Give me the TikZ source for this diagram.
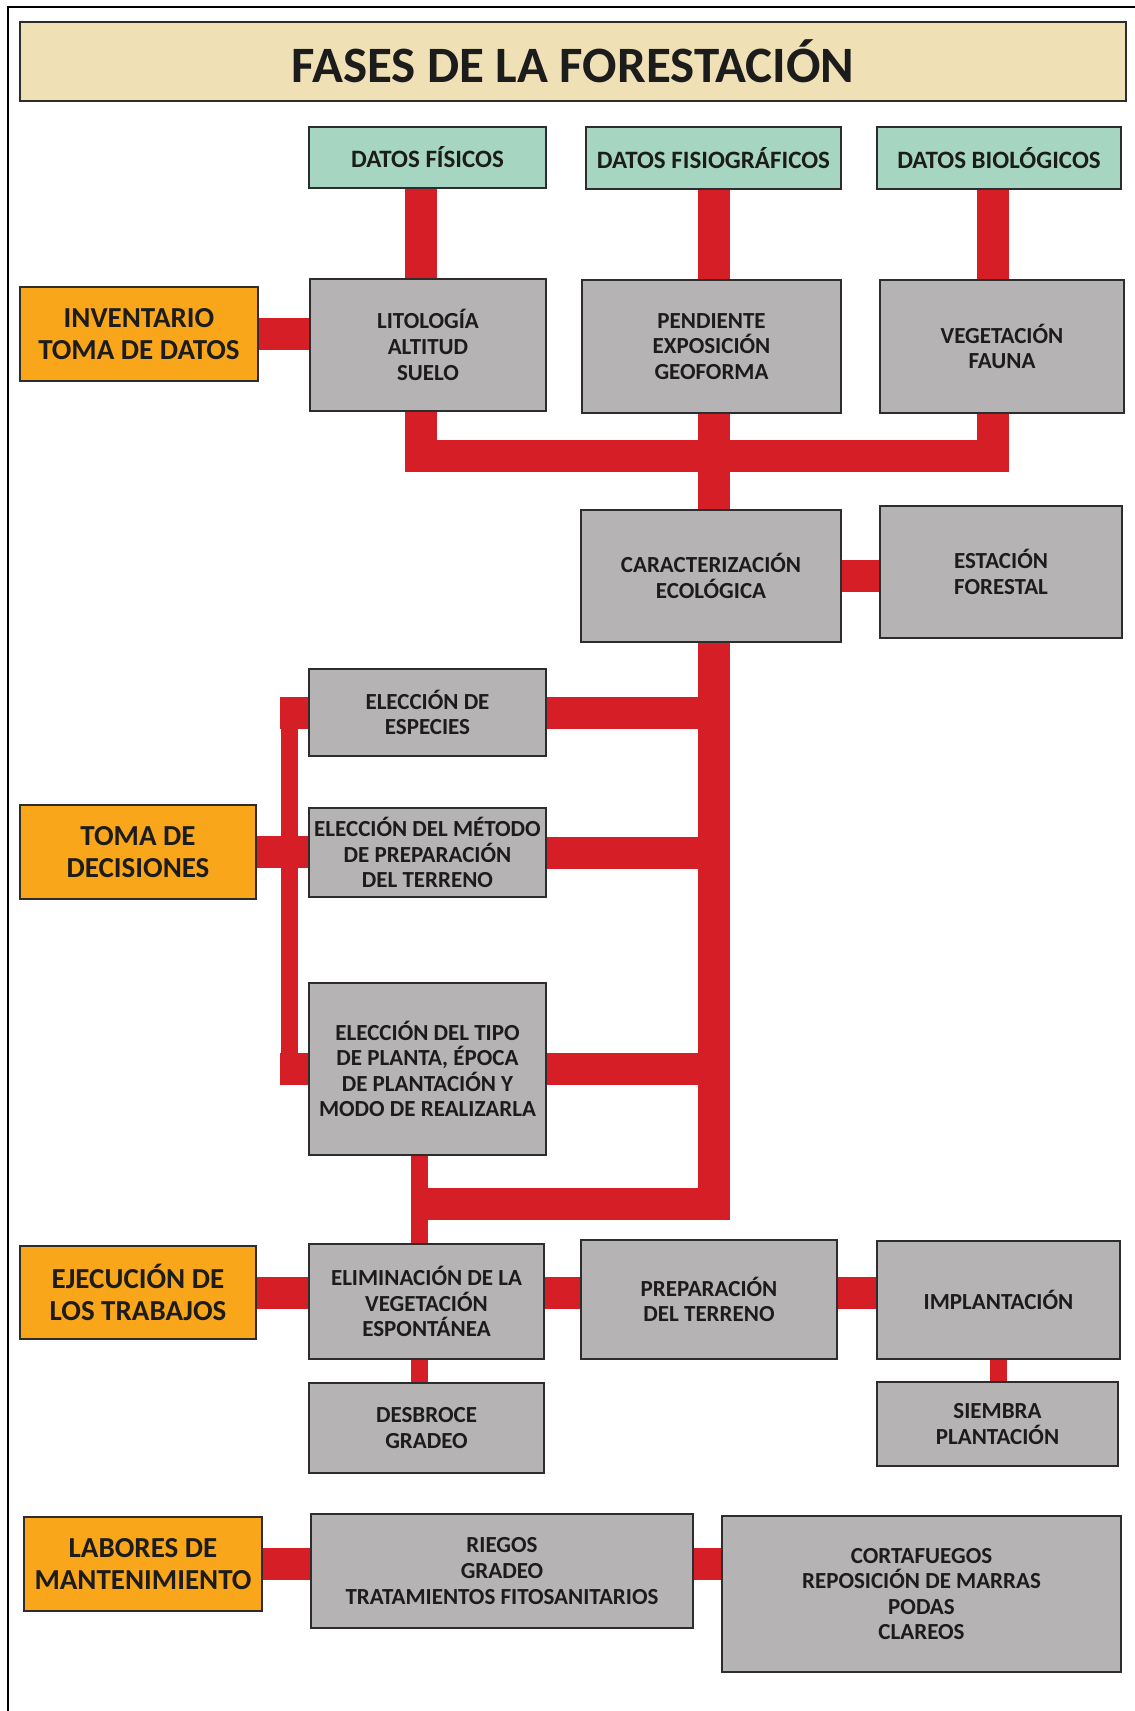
\documentclass[tikz,border=0pt]{standalone}
\usepackage{fontspec}
\setmainfont{Carlito}
\usetikzlibrary{positioning,backgrounds,calc}

\definecolor{rojo}{RGB}{214,30,38}
\definecolor{gris}{RGB}{181,179,180}
\definecolor{naranja}{RGB}{250,166,26}
\definecolor{menta}{RGB}{166,214,193}
\definecolor{arena}{RGB}{239,224,182}
\definecolor{borde}{RGB}{45,45,45}
\definecolor{tinta}{RGB}{28,28,28}

\tikzset{
  tam/.style 2 args={minimum width=#1*0.5pt, minimum height=#2*0.5pt},
  caja/.style={draw=borde, line width=1pt, fill=gris, align=center, inner sep=2pt, text=tinta,
    font=\bfseries\fontsize{11.5}{12.8}\selectfont},
  dato/.style={caja, fill=menta, font=\bfseries\fontsize{12.5}{14}\selectfont},
  fase/.style={caja, fill=naranja, font=\bfseries\fontsize{14.5}{16.4}\selectfont},
  titulo/.style={caja, fill=arena, font=\bfseries\fontsize{25.5}{28}\selectfont},
  enlace/.style={draw=rojo, line width=16pt},
  enlacefino/.style={draw=rojo, line width=8.5pt}
}

\begin{document}
\begin{tikzpicture}[x=0.5pt,y=-0.5pt]
\useasboundingbox (0,0) rectangle (1134,1711);
\draw[line width=1pt] (8,1800) -- (8,7) -- (1200,7);

\node[titulo, tam={1106}{79}] (tit) at (573,61.5) {FASES DE LA FORESTACIÓN};

% datos
\node[dato, tam={237}{61}] (dfis) at (427.5,157.5) {DATOS FÍSICOS};
\node[dato, tam={255}{62}] (dfisio) at (713.5,158) {DATOS FISIOGRÁFICOS};
\node[dato, tam={244}{62}] (dbio) at (999,158) {DATOS BIOLÓGICOS};

% inventario
\node[fase, tam={238}{94}] (inv) at (139,334) {INVENTARIO\\TOMA DE DATOS};
\node[caja, tam={236}{132}] (lito) at (428,345) {LITOLOGÍA\\ALTITUD\\SUELO};
\node[caja, tam={259}{133}] (pend) at (711.5,346.5) {PENDIENTE\\EXPOSICIÓN\\GEOFORMA};
\node[caja, tam={244}{133}] (veg) at (1002,346.5) {VEGETACIÓN\\FAUNA};
\node[caja, tam={260}{132}] (carac) at (711,576) {CARACTERIZACIÓN\\ECOLÓGICA};
\node[caja, tam={242}{132}] (estac) at (1001,572) {ESTACIÓN\\FORESTAL};

% decisiones
\node[fase, tam={236}{94}] (toma) at (138,852) {TOMA DE\\DECISIONES};
\node[caja, tam={237}{87}] (esp) at (427.5,712.5) {ELECCIÓN DE\\ESPECIES};
\node[caja, tam={237}{89}] (met) at (427.5,852.5) {ELECCIÓN DEL MÉTODO\\DE PREPARACIÓN\\DEL TERRENO};
\node[caja, tam={237}{172}] (tipo) at (427.5,1069) {ELECCIÓN DEL TIPO\\DE PLANTA, ÉPOCA\\DE PLANTACIÓN Y\\MODO DE REALIZARLA};

% trabajos
\node[fase, tam={236}{93}] (ejec) at (138,1292.5) {EJECUCIÓN DE\\LOS TRABAJOS};
\node[caja, tam={235}{115}] (elim) at (426.5,1301.5) {ELIMINACIÓN DE LA\\VEGETACIÓN\\ESPONTÁNEA};
\node[caja, tam={256}{119}] (prep) at (709,1299.5) {PREPARACIÓN\\DEL TERRENO};
\node[caja, tam={243}{118}] (impl) at (998.5,1300) {IMPLANTACIÓN};
\node[caja, tam={235}{90}] (desb) at (426.5,1428) {DESBROCE\\GRADEO};
\node[caja, tam={241}{84}] (siem) at (997.5,1424) {SIEMBRA\\PLANTACIÓN};

% mantenimiento
\node[fase, tam={238}{94}] (lab) at (143,1564) {LABORES DE\\MANTENIMIENTO};
\node[caja, tam={382}{114}] (rieg) at (502,1571) {RIEGOS\\GRADEO\\TRATAMIENTOS FITOSANITARIOS};
\node[caja, tam={399}{156}] (cort) at (921.5,1594) {CORTAFUEGOS\\REPOSICIÓN DE MARRAS\\PODAS\\CLAREOS};

\coordinate (bus) at (0,456);
\coordinate (nudo) at (419,1204);
\coordinate (llave) at (289,0);
\coordinate (colfis) at (421,0);
\coordinate (colbio) at (993,0);
\coordinate (tronco) at (713.5,0);

\begin{scope}[on background layer]
  \foreach \a/\b/\c in {dfis/lito/colfis,dfisio/pend/tronco,dbio/veg/colbio}
    \draw[enlace] (\c |- \a) -- (\c |- \b);
  \draw[enlace] (inv) -- (inv -| lito);
  \draw[enlace] (colfis |- lito) -- (colfis |- bus) -| (colbio |- veg);
  \draw[enlace] (tronco |- pend) -- (tronco |- carac);
  \draw[enlace] (carac) -- (carac -| estac);
  \draw[enlace] (tronco |- carac) |- ([xshift=-3.75pt]nudo);
  \foreach \c in {esp,met,tipo}
    \draw[enlace] (\c) -- (\c -| tronco);
  \draw[enlace] (toma) -- (toma -| met);
  \draw[enlace] ([xshift=-4.5pt]llave |- esp) -- (esp);
  \draw[enlace] ([xshift=-4.5pt]llave |- tipo) -- (tipo);
  \draw[enlacefino] ([yshift=7.5pt]llave |- esp) -- ([yshift=-7.5pt]llave |- tipo);
  \draw[enlacefino] (nudo |- tipo) -- (nudo |- desb);
  \draw[enlace] (ejec) -- (ejec -| impl);
  \draw[enlacefino] (impl) -- (impl |- siem);
  \draw[enlace] (lab) -- (lab -| cort);
\end{scope}
\end{tikzpicture}
\end{document}
